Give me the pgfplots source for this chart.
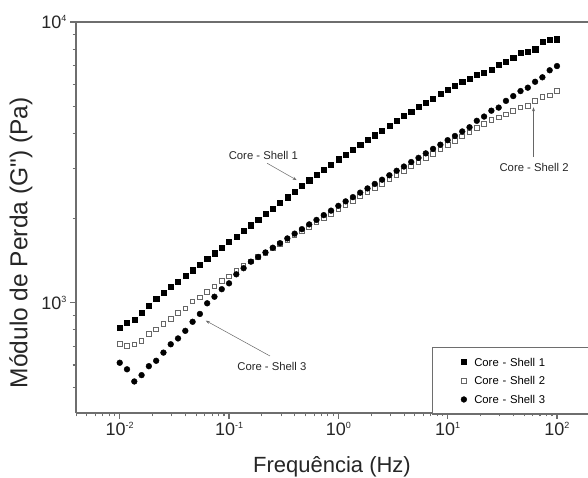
\documentclass[border=0pt]{standalone}
\usepackage{fontspec}
\setmainfont{Liberation Sans}
\usepackage{pgfplots}
\pgfplotsset{compat=1.18}
\usepackage{pgfplotstable}
\usetikzlibrary{arrows.meta}
\newcommand\sups[1]{\raisebox{7pt}{\fontsize{9}{9}\selectfont #1}}
\newcommand\dq{\XeTeXglyph\XeTeXcharglyph"22\relax}
\definecolor{axgray}{RGB}{110,110,110}
\pgfplotstableread{
x s1 s2 s3
0.01 817 713 611
0.011659 851 703 579
0.013594 867 711 524
0.015849 920 731 552
0.018478 975 774 594
0.021544 1030 804 621
0.025119 1086 839 664
0.029286 1138 873 711
0.034145 1191 920 746
0.039811 1247 955 794
0.046416 1306 1009 855
0.054117 1368 1045 912
0.063096 1432 1094 995
0.073564 1500 1143 1050
0.085770 1570 1197 1117
0.1 1644 1239 1172
0.11659 1722 1297 1262
0.13594 1803 1352 1327
0.15849 1888 1403 1400
0.18478 1977 1452 1455
0.21544 2070 1507 1510
0.25119 2168 1560 1570
0.29286 2270 1618 1629
0.34145 2377 1675 1694
0.39811 2489 1738 1762
0.46416 2606 1799 1828
0.54117 2729 1866 1901
0.63096 2851 1932 1972
0.73564 2979 2004 2051
0.85770 3112 2075 2128
1 3243 2153 2213
1.1659 3373 2228 2296
1.3594 3508 2307 2377
1.5849 3656 2388 2466
1.8478 3802 2477 2553
2.1544 3954 2564 2649
2.5119 4111 2655 2742
2.9286 4285 2748 2844
3.4145 4457 2851 2951
3.9811 4624 2951 3055
4.6416 4797 3055 3170
5.4117 4977 3162 3281
6.3096 5152 3281 3404
7.3564 5346 3396 3532
8.5770 5546 3516 3656
10 5754 3639 3793
11.659 5943 3767 3926
13.594 6124 3908 4074
15.849 6295 4046 4217
18.478 6471 4188 4446
21.544 6607 4335 4603
25.119 6745 4477 4831
29.286 7031 4571 4955
34.145 7228 4688 5236
39.811 7482 4819 5445
46.416 7798 4955 5675
54.117 7834 5023 5834
63.096 7998 5236 6124
73.564 8511 5395 6353
85.770 8630 5470 6730
100 8690 5689 6966
}\data
\begin{document}
\begin{tikzpicture}
\begin{axis}[
  at={(0pt,0pt)}, anchor=south west,
  scale only axis, width=512pt, height=391pt,
  xmode=log, ymode=log,
  xmin=0.003981, xmax=192.3, ymin=404.6, ymax=10000,
  axis x line=box, axis y line=left,
  axis line style={-, draw=axgray, line width=1.6pt},
  every outer x axis line/.append style={-},
  every outer y axis line/.append style={-},
  xtick pos=bottom, ytick pos=left,
  tick align=outside,
  major tick length=6pt, minor tick length=3.5pt,
  tick style={draw=axgray, line width=1.1pt},
  xtick={0.01,0.1,1,10,100},
  xticklabels={10\sups{-2},10\sups{-1},10\sups{0},10\sups{1},10\sups{2}},
  minor xtick={0.004,0.005,0.006,0.007,0.008,0.009,0.02,0.03,0.04,0.05,0.06,0.07,0.08,0.09,0.2,0.3,0.4,0.5,0.6,0.7,0.8,0.9,2,3,4,5,6,7,8,9,20,30,40,50,60,70,80,90},
  ytick={1000,10000},
  yticklabels={10\sups{3},10\sups{4}},
  minor ytick={500,600,700,800,900,2000,3000,4000,5000,6000,7000,8000,9000},
  ticklabel style={font=\fontsize{18}{20}\selectfont, text=black!85},
  xlabel={Frequência (Hz)},
  ylabel={Módulo de Perda (G\dq) (Pa)},
  every axis x label/.style={at={(axis description cs:0.5,-0.151)}, anchor=base, font=\fontsize{22}{24}\selectfont, text=black!85},
  every axis y label/.style={at={(axis description cs:-0.1074,0.435)}, rotate=90, anchor=center, font=\fontsize{24.5}{26}\selectfont, text=black!85},
  legend style={at={(0.695,0.169)}, anchor=north west, draw=axgray, line width=1.3pt,
    inner xsep=28.5pt, inner ysep=10.5pt, row sep=10.7pt, column sep=7.5pt,
    font=\fontsize{11.3}{13}\selectfont,
    nodes={inner sep=0pt, text height=8pt, text depth=0pt, text width=120pt, anchor=west}},
  legend cell align=left,
  legend image code/.code={\draw[#1] plot coordinates {(0pt,0pt)};},
]
\addplot[only marks, mark=square*, mark size=2.6pt, mark options={draw=black, fill=black, line width=0.4pt}] table[x=x,y=s1]{\data};
\addlegendentry{Core - Shell 1}
\addplot[only marks, mark=square, mark size=2.3pt, mark options={draw=black!60, line width=0.9pt}] table[x=x,y=s2]{\data};
\addlegendentry{Core - Shell 2}
\addplot[only marks, mark=*, mark size=2.9pt, mark options={draw=black, fill=black, line width=0.4pt}] table[x=x,y=s3]{\data};
\addlegendentry{Core - Shell 3}
\node[font=\fontsize{11.3}{13}\selectfont, text=black!85] at (axis cs:0.206,3357) {Core - Shell 1};
\draw[-{Stealth[length=4pt,width=3pt]}, black!60, line width=0.5pt] (axis cs:0.223,3139) -- (axis cs:0.415,2735);
\node[font=\fontsize{11.3}{13}\selectfont, text=black!85] at (axis cs:61.8,3041) {Core - Shell 2};
\draw[-{Stealth[length=4pt,width=3pt]}, black!60, line width=0.5pt] (axis cs:61,3303) -- (axis cs:61,4966);
\node[font=\fontsize{11.3}{13}\selectfont, text=black!85] at (axis cs:0.2466,592) {Core - Shell 3};
\draw[-{Stealth[length=4pt,width=3pt]}, black!60, line width=0.5pt] (axis cs:0.2366,646) -- (axis cs:0.0613,863);
\end{axis}
\pgfresetboundingbox
\path[use as bounding box] (-76pt,-64pt) rectangle (512pt,413pt);
\end{tikzpicture}
\end{document}
